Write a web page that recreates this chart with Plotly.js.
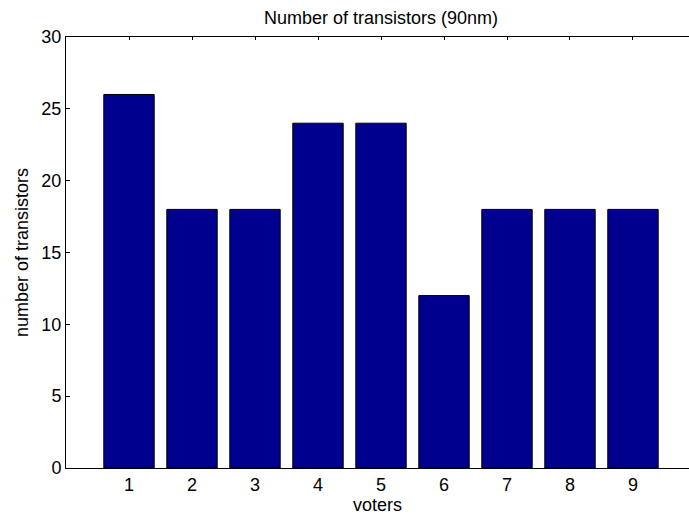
<!DOCTYPE html>
<html>
<head>
<meta charset="utf-8">
<script src="https://cdn.plot.ly/plotly-3.0.1.min.js"></script>
<style>
  html, body { margin: 0; padding: 0; background: #fff; }
  #chart { width: 689px; height: 519px; }
</style>
</head>
<body>
<div id="chart"></div>
<script>
// Transistor count per voter design, 90nm process
const voters = [1, 2, 3, 4, 5, 6, 7, 8, 9];
const transistors = [26, 18, 18, 24, 24, 12, 18, 18, 18];
const yTicks = [0, 5, 10, 15, 20, 25, 30];

const font = { family: 'Liberation Sans, Arial, Helvetica, sans-serif', size: 18, color: '#000' };

const trace = {
  type: 'bar',
  x: voters,
  y: transistors,
  width: 0.8,
  marker: { color: '#00008f', line: { color: '#000', width: 1 } },
  hoverinfo: 'x+y'
};

const layout = {
  width: 689,
  height: 519,
  margin: { l: 66, r: 0, t: 37, b: 51 },
  paper_bgcolor: '#fff',
  plot_bgcolor: '#fff',
  font: font,
  showlegend: false,
  title: {
    text: 'Number of transistors (90nm)',
    font: font,
    xref: 'paper', x: 0.5056, xanchor: 'center',
    yref: 'container', y: 0.965, yanchor: 'middle'
  },
  xaxis: {
    range: [0, 9.889],
    tickvals: voters,
    ticktext: voters.map(String),
    ticks: 'inside',
    ticklen: 3,
    tickcolor: '#000',
    showline: true,
    linecolor: '#000',
    linewidth: 1,
    mirror: 'ticks',
    showgrid: false,
    zeroline: false,
    layer: 'below traces',
    tickfont: font,
    title: { text: 'voters', font: font, standoff: 4 }
  },
  yaxis: {
    range: [0, 30],
    tickvals: yTicks,
    ticks: 'inside',
    ticklen: 4,
    tickcolor: '#000',
    showline: true,
    linecolor: '#000',
    linewidth: 1,
    mirror: false,
    showgrid: false,
    zeroline: false,
    tickfont: font,
    title: { text: 'number of transistors', font: font, standoff: 8 }
  }
};

Plotly.newPlot('chart', [trace], layout, { displayModeBar: false, staticPlot: true });
</script>
</body>
</html>
